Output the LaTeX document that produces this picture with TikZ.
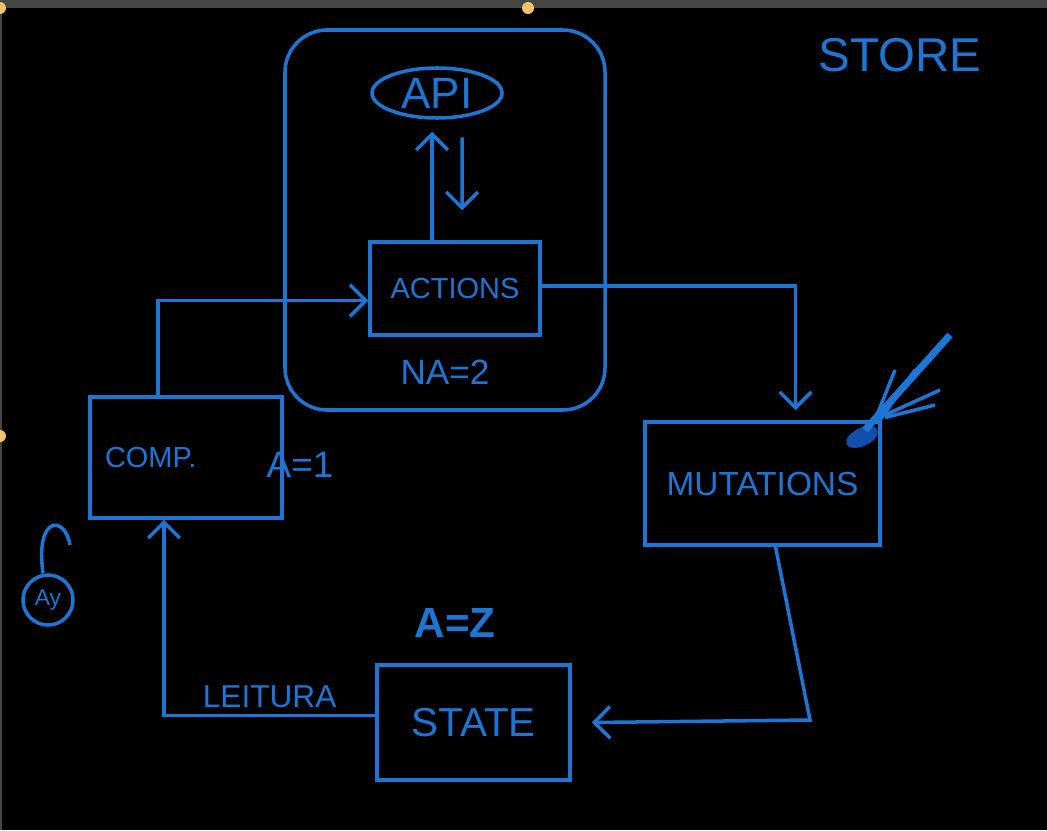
\documentclass[tikz,border=0pt]{standalone}
\usepackage{fontspec}
\setmainfont{Liberation Sans}
\usetikzlibrary{arrows.meta,shapes.geometric,positioning}
\definecolor{pen}{RGB}{30,118,212}
\definecolor{ink}{RGB}{18,78,170}
\definecolor{barcol}{RGB}{72,70,68}
\definecolor{handle}{RGB}{240,196,110}
\newcommand{\fs}[1]{\fontsize{#1}{#1}\selectfont}
\begin{document}
\begin{tikzpicture}[>={Straight Barb[length=9pt,width=18pt]}, line width=2pt, color=pen,
  box/.style={draw=pen, line width=2pt, inner sep=0pt},
  lbl/.style={text=pen, font=\fs{20}}]
% Fundo
\fill[black] (0,0) rectangle (20.94,-16.6);
\useasboundingbox (0,0) rectangle (20.94,-16.6);
\fill[barcol] (0,0) rectangle (20.94,-0.16);
\fill[barcol] (0,0) rectangle (0.04,-16.6);
\fill[handle] (0,-0.16) circle (0.12);
\fill[handle] (10.56,-0.16) circle (0.12);
\fill[handle] (0,-8.72) circle (0.12);
% Store
\node[box, rounded corners=24pt, minimum width=6.4cm, minimum height=7.6cm] (store) at (8.9,-4.4) {};
\node[lbl, font=\fs{27}] (storelbl) at (18.0,-1.1) {STORE};
% API e actions
\node[box, ellipse, minimum width=2.6cm, minimum height=1.0cm, lbl, font=\fs{25}] (api) at (8.74,-1.86) {API};
\node[box, minimum width=3.4cm, minimum height=1.86cm, lbl, font=\fs{16.5}] (actions) at (9.1,-5.77) {ACTIONS};
\node[lbl] (na) at (8.9,-7.44) {NA=2};
\draw[->] ([xshift=-0.46cm]actions.north) -- ([xshift=-0.1cm,yshift=-0.24cm]api.south);
\draw[->] ([xshift=0.5cm,yshift=-0.35cm]api.south) -- ([xshift=0.14cm,yshift=0.6cm]actions.north);
% Componente
\node[box, minimum width=3.84cm, minimum height=2.42cm, text width=3.24cm, inner xsep=0.3cm, align=left, lbl, font=\fs{16.5}] (comp) at (3.72,-9.15) {COMP.};
\node[lbl, font=\fs{21}] (a1) at (6.0,-9.3) {A=1};
% Mutations
\node[box, minimum width=4.7cm, minimum height=2.46cm, lbl, font=\fs{19}] (mutations) at (15.25,-9.67) {MUTATIONS};
\fill[ink, rotate around={25:(17.24,-8.74)}] (17.24,-8.74) ellipse (0.34 and 0.18);
\draw[line width=4pt] (17.3,-8.6) -- (19.0,-6.7);
\draw (17.6,-8.4) -- (18.3,-7.4);
\draw (17.7,-8.3) -- (18.8,-7.8);
\draw (17.7,-8.35) -- (18.7,-8.1);
\draw (17.5,-8.4) -- (17.9,-7.4);
% State
\node[box, minimum width=3.86cm, minimum height=2.3cm, lbl, font=\fs{23}] (state) at (9.47,-14.45) {STATE};
\node[lbl, font=\bfseries\fs{24}] (az) at (9.1,-12.45) {A=Z};
% Async
\node[box, circle, minimum size=1.0cm, lbl, font=\fs{13}] (ay) at (0.96,-12.0) {Ay};
\coordinate (loopend) at (1.4,-10.9);
\draw ([xshift=-0.1cm]ay.north) .. controls (0.7,-10.3) and (1.3,-10.3) .. (loopend);
% Fluxo
\draw[->] ([xshift=-0.56cm]comp.north) |- ([yshift=-0.24cm]actions.west);
\draw[->] ([yshift=0.05cm]actions.east) -| ([xshift=0.66cm,yshift=0.2cm]mutations.north);
\coordinate (turn) at (16.2,-14.4);
\draw[->] ([xshift=0.26cm]mutations.south) -- (turn) -- ([xshift=0.4cm]state.east);
\draw[->] ([yshift=0.14cm]state.west) -| ([xshift=-0.44cm]comp.south)
  node[pos=0.25, above, lbl, font=\fs{18}] (leitura) {LEITURA};
\end{tikzpicture}
\end{document}
